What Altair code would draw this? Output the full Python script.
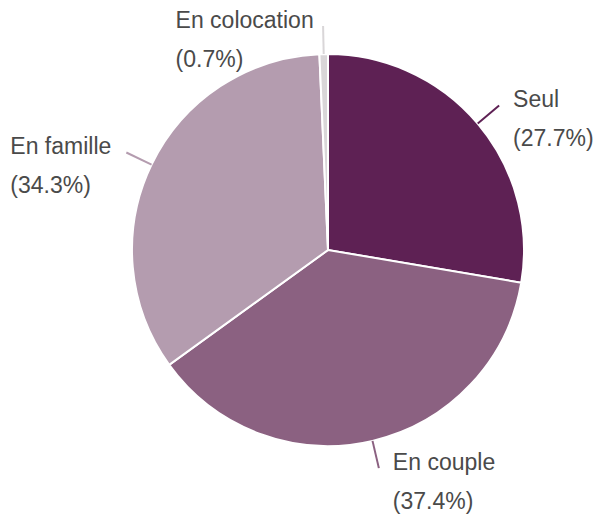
import altair as alt
import pandas as pd

labels = ["Seul", "En couple", "En famille", "En colocation"]
percents = [27.7, 37.4, 34.3, 0.7]
order_idx = [0, 1, 2, 3]

palette = ["#5e2154", "#8b6181", "#b49caf", "#d9d6d8"]

df = pd.DataFrame({"label": labels, "value": percents, "idx": order_idx})

CX, CY, R = 320, 242, 196
R_END = 224

color = alt.Color("label:N", scale=alt.Scale(domain=labels, range=palette), legend=None)

base = alt.Chart(df)

pie = base.mark_arc(outerRadius=R, stroke="white", strokeWidth=2).encode(
    theta=alt.Theta("value:Q", stack=True),
    order=alt.Order("idx:Q"),
    color=color,
    x=alt.value(CX),
    y=alt.value(CY),
)

geo = base.transform_window(
    cum="sum(value)", sort=[{"field": "idx"}], frame=[None, 0]
).transform_joinaggregate(total="sum(value)").transform_calculate(
    mid="2*PI*(datum.cum - datum.value/2)/datum.total"
).transform_calculate(
    x0=f"{CX} + {R}*sin(datum.mid)",
    y0=f"{CY} - {R}*cos(datum.mid)",
    x1=f"{CX} + {R_END}*sin(datum.mid)",
    y1=f"{CY} - {R_END}*cos(datum.mid)",
).transform_calculate(
    tx="sin(datum.mid) >= 0 ? datum.x1 + 14 : datum.x1 - 11 - 10.5*length(datum.label)",
    ty1="datum.y1 - 5",
    ty2="datum.y1 + 34",
    pct="'(' + format(datum.value, '.1f') + '%)'",
)

lines = geo.mark_rule(strokeWidth=2).encode(
    x=alt.X("x0:Q", scale=None),
    y=alt.Y("y0:Q", scale=None),
    x2="x1:Q",
    y2="y1:Q",
    color=color,
)

txt_kw = dict(align="left", baseline="middle", font="Liberation Sans", fontSize=23, color="#4a4a4a")
t1 = geo.mark_text(**txt_kw).encode(
    x=alt.X("tx:Q", scale=None), y=alt.Y("ty1:Q", scale=None), text="label:N"
)
t2 = geo.mark_text(**txt_kw).encode(
    x=alt.X("tx:Q", scale=None), y=alt.Y("ty2:Q", scale=None), text="pct:N"
)

chart = alt.layer(pie, lines, t1, t2).properties(
    width=587, height=507, padding=0, autosize=alt.AutoSizeParams(type="none")
).configure_view(stroke=None)

chart.save("out.html", embed_options={"renderer": "svg", "actions": False})
